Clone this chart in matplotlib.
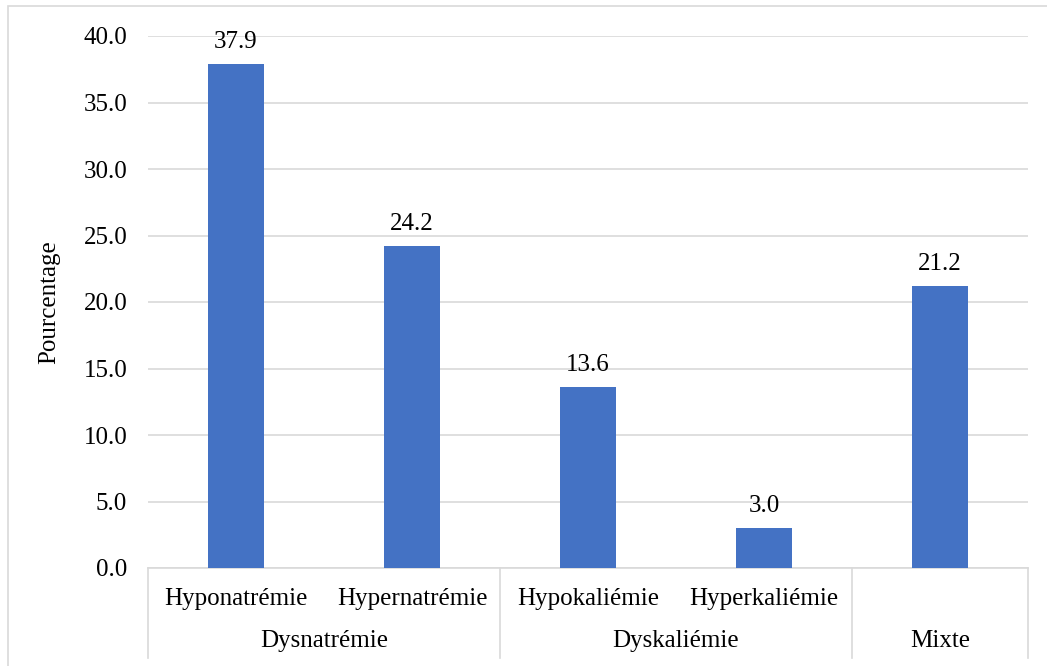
import numpy as np
import matplotlib.pyplot as plt
from matplotlib.patches import Rectangle
import matplotlib.transforms as mtransforms

plt.rcParams['font.family'] = ['Liberation Serif', 'DejaVu Serif']

# data
sub_labels = ["Hyponatrémie", "Hypernatrémie", "Hypokaliémie", "Hyperkaliémie", ""]
group_labels = ["Dysnatrémie", "Dyskaliémie", "Mixte"]
group_sizes = [2, 2, 1]
values = [37.9, 24.2, 13.6, 3.0, 21.2]

bar_color = "#4472C4"
grid_color = "#D9D9D9"
fs = 18

fig = plt.figure(figsize=(10.47, 6.66), dpi=100)
ax = fig.add_axes([148/1047, 1 - 568/666, 880/1047, 532/666])

x = np.arange(len(values))
bars = ax.bar(x, values, width=56/176, color=bar_color, zorder=3)
for xi, v in zip(x, values):
    ax.annotate(f"{v:.1f}", (xi, v), xytext=(0, 8), textcoords="offset points",
                ha="center", va="bottom", fontsize=fs)

ax.set_xlim(-0.5, len(values) - 0.5)
ax.set_ylim(0, 40)
ax.set_yticks(np.arange(0, 40.1, 5))
ax.set_yticklabels([f"{t:.1f}" for t in np.arange(0, 40.1, 5)])
ax.yaxis.grid(True, color=grid_color, lw=1.2, zorder=0)
ax.tick_params(axis="y", length=0, pad=15, labelsize=fs)
ax.tick_params(axis="x", length=0)
ax.set_xticks([])
for s in ["top", "right", "left"]:
    ax.spines[s].set_visible(False)
ax.spines["bottom"].set_color(grid_color)
ax.spines["bottom"].set_linewidth(1.2)
ax.set_ylabel("Pourcentage", fontsize=fs, labelpad=17)

# hierarchical x axis
trans = mtransforms.blended_transform_factory(ax.transData, ax.transAxes)
depth = 90 / 532
for xi, lab in zip(x, sub_labels):
    ax.text(xi, -31/532, lab, transform=trans, ha="center", va="center", fontsize=fs)
edges = [-0.5]
start = -0.5
for g, n in zip(group_labels, group_sizes):
    center = start + n / 2
    ax.text(center, -73/532, g, transform=trans, ha="center", va="center", fontsize=fs)
    start += n
    edges.append(start)
for e in edges:
    ax.plot([e, e], [0, -depth], transform=trans, color=grid_color, lw=1.2, clip_on=False)

# outer chart frame
fig.patches.append(Rectangle((8/1047, -0.05), 1.1, 1 - 6/666 + 0.05,
                             transform=fig.transFigure, fill=False,
                             edgecolor=grid_color, lw=1.2))

fig.savefig("out.png", dpi=100)
